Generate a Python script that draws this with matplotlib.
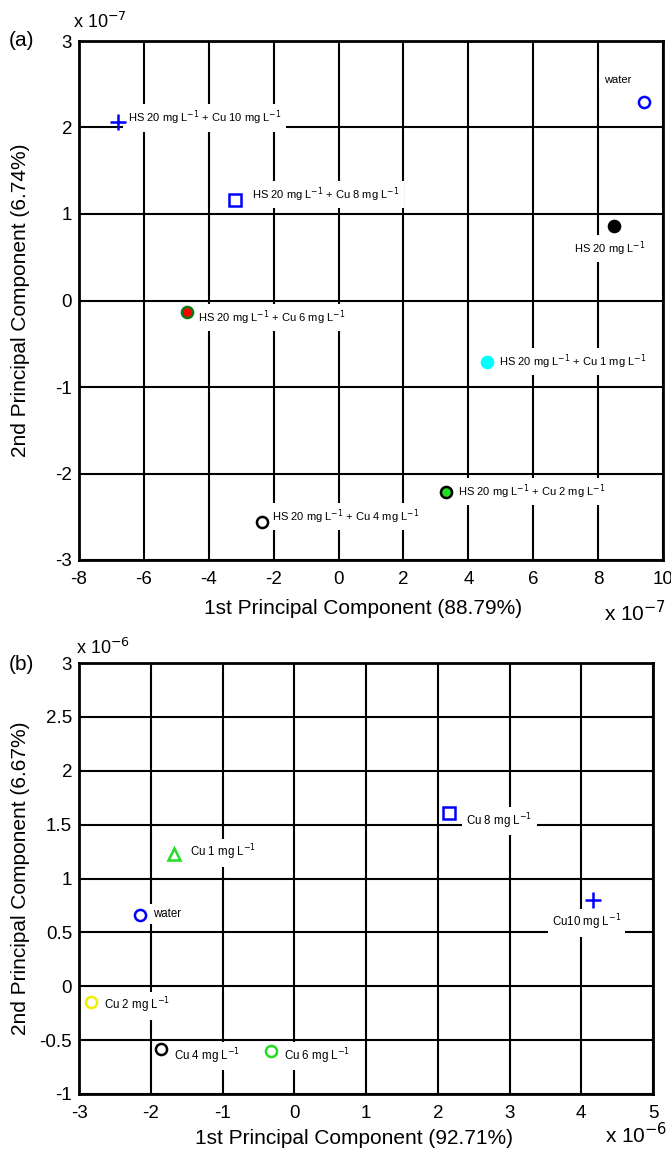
import matplotlib.pyplot as plt
import numpy as np

# panel (a): HS + Cu, units of 1e-7
a_labels = ['water', 'HS 20 mg L$^{-1}$ + Cu 10 mg L$^{-1}$', 'HS 20 mg L$^{-1}$ + Cu 8 mg L$^{-1}$',
            'HS 20 mg L$^{-1}$', 'HS 20 mg L$^{-1}$ + Cu 6 mg L$^{-1}$', 'HS 20 mg L$^{-1}$ + Cu 1 mg L$^{-1}$',
            'HS 20 mg L$^{-1}$ + Cu 2 mg L$^{-1}$', 'HS 20 mg L$^{-1}$ + Cu 4 mg L$^{-1}$']
a_x = [9.41, -6.81, -3.2, 8.48, -4.68, 4.58, 3.30, -2.35]
a_y = [2.29, 2.06, 1.16, 0.86, -0.13, -0.71, -2.21, -2.56]
a_marker = ['o', '+', 's', 'o', 'o', 'o', 'o', 'o']
a_face = ['none', 'blue', 'none', 'black', 'red', 'cyan', '#22dd22', 'none']
a_edge = ['blue', 'blue', 'blue', 'black', '#117711', 'cyan', 'black', 'black']
a_lab_xy = [(8.17, 2.55), (-6.5, 2.11), (-2.66, 1.22), (7.25, 0.60), (-4.33, -0.20), (4.93, -0.71), (3.67, -2.21), (-2.05, -2.50)]

# panel (b): Cu only, units of 1e-6
b_labels = ['Cu 8 mg L$^{-1}$', 'Cu 1 mg L$^{-1}$', 'water', 'Cu10 mg L$^{-1}$',
            'Cu 2 mg L$^{-1}$', 'Cu 4 mg L$^{-1}$', 'Cu 6 mg L$^{-1}$']
b_x = [2.15, -1.67, -2.15, 4.17, -2.83, -1.86, -0.33]
b_y = [1.61, 1.23, 0.66, 0.80, -0.15, -0.58, -0.60]
b_marker = ['s', '^', 'o', '+', 'o', 'o', 'o']
b_color = ['blue', '#22dd22', 'blue', 'blue', '#eeee00', 'black', '#22dd22']
b_lab_xy = [(2.40, 1.53), (-1.45, 1.24), (-1.97, 0.67), (3.59, 0.59), (-2.65, -0.18), (-1.67, -0.65), (-0.14, -0.65)]

plt.rcParams['font.family'] = ['Liberation Sans', 'DejaVu Sans']
plt.rcParams['axes.unicode_minus'] = False

fig = plt.figure(figsize=(6.71, 11.5), dpi=100)
W, H = 671.0, 1150.0
ax1 = fig.add_axes([79 / W, 1 - 560 / H, 584 / W, 519 / H])
ax2 = fig.add_axes([79 / W, 1 - 1094 / H, 574 / W, 431 / H])

def style(ax):
    ax.grid(True, color='black', linewidth=1.5, linestyle='-')
    ax.set_axisbelow(True)
    for s in ax.spines.values():
        s.set_linewidth(2.0)
    ax.tick_params(axis='x', direction='in', length=0, labelsize=13.5, pad=8)
    ax.tick_params(axis='y', direction='in', length=0, labelsize=13.5, pad=5)

def draw(ax, xs, ys, markers, faces, edges, labels, lab_xy, fs):
    for i in range(len(xs)):
        if markers[i] == '+':
            ax.plot(xs[i], ys[i], marker='+', color=edges[i], markersize=11, mew=1.8, ls='none', zorder=5)
        else:
            ax.plot(xs[i], ys[i], marker=markers[i], mfc=faces[i], mec=edges[i],
                    markersize=9 if markers[i] == 's' else 8, mew=1.8, ls='none', zorder=5)
        ax.text(lab_xy[i][0], lab_xy[i][1], labels[i], fontsize=fs,
                va='center', ha='left', zorder=4,
                bbox=dict(facecolor='white', edgecolor='none', pad=3))

# (a)
draw(ax1, a_x, a_y, a_marker, a_face, a_edge, a_labels, a_lab_xy, 8)
ax1.set_xlim(-8, 10)
ax1.set_ylim(-3, 3)
ax1.set_xticks(np.arange(-8, 11, 2))
ax1.set_yticks(np.arange(-3, 4, 1))
style(ax1)
fig.text(363 / W, 1 - 608 / H, '1st Principal Component (88.79%)', fontsize=15, ha='center', va='center')
fig.text(21 / W, 1 - 300 / H, '2nd Principal Component (6.74%)', fontsize=15, ha='center', va='center', rotation=90)
fig.text(100 / W, 1 - 22 / H, 'x 10$^{-7}$', fontsize=13, ha='center', va='center')
fig.text(635 / W, 1 - 613 / H, 'x 10$^{-7}$', fontsize=15, ha='center', va='center')
fig.text(21 / W, 1 - 41 / H, '(a)', fontsize=15, ha='center', va='center')

# (b)
draw(ax2, b_x, b_y, b_marker, ['none'] * len(b_x), b_color, b_labels, b_lab_xy, 8.3)
ax2.set_xlim(-3, 5)
ax2.set_ylim(-1, 3)
ax2.set_xticks(np.arange(-3, 6, 1))
ax2.set_yticks(np.arange(-1, 3.5, 0.5))
ax2.set_yticklabels(['-1', '-0.5', '0', '0.5', '1', '1.5', '2', '2.5', '3'])
style(ax2)
fig.text(354 / W, 1 - 1138 / H, '1st Principal Component (92.71%)', fontsize=15, ha='center', va='center')
fig.text(21 / W, 1 - 878 / H, '2nd Principal Component (6.67%)', fontsize=15, ha='center', va='center', rotation=90)
fig.text(103 / W, 1 - 648 / H, 'x 10$^{-6}$', fontsize=13, ha='center', va='center')
fig.text(636 / W, 1 - 1135 / H, 'x 10$^{-6}$', fontsize=15, ha='center', va='center')
fig.text(21 / W, 1 - 665 / H, '(b)', fontsize=15, ha='center', va='center')

fig.savefig('out.png', dpi=100)
